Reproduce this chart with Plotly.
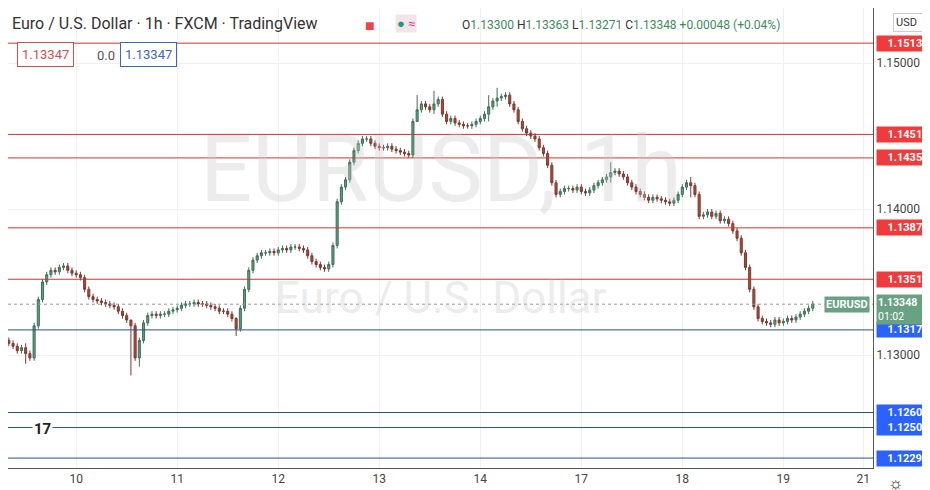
import plotly.graph_objects as go

# hourly closes in pips above 1.13000
close_pips = [8, 6, 3, 5, 1, -2,
              20, 38, 50, 55,
              58, 57, 60, 61, 58,
              56, 55, 53, 45, 40,
              38, 37, 36, 35, 34, 33, 30,
              27, 24, 20, -2,
              10, 22, 27, 28, 27,
              28, 28, 30, 31, 32, 34, 35, 35, 36,
              35, 35, 34, 33, 32, 30, 30, 28,
              25, 18, 32,
              45, 58, 65, 68, 70,
              70, 71, 70, 72, 73, 72, 74, 74, 73, 72,
              68, 64, 62, 60, 59, 62,
              75, 105, 115, 120,
              132, 140, 145, 148,
              148, 145, 143, 142, 142, 143, 141, 140, 139, 138, 137,
              160, 168, 172, 170,
              168, 172, 175, 165, 160, 162,
              159, 158, 157, 157, 158, 160, 162,
              165, 170, 174, 176, 177, 178,
              172, 168, 160, 155, 152, 150,
              148, 142, 138, 130, 118, 110,
              112, 114, 114, 113, 115, 112, 111, 113, 116, 118,
              120, 122, 125, 126, 124, 122,
              118, 115, 112, 110, 108, 106,
              108, 107, 106, 105, 104, 106,
              110, 115, 118,
              116, 110, 95,
              96, 98, 95, 97, 92, 93, 90,
              85, 80, 70, 60,
              45, 33, 25, 23,
              22, 21, 24, 22, 23, 25, 24, 26, 28, 30, 32, 35]
first_open_pips = 10
# long wicks seen on the picture: bar -> (high pips, low pips)
wick_pips = {4: (8, -6), 29: (22, -14), 54: (26, 13), 31: (12, -8),
             97: (178, 160), 101: (181, 165), 116: (183, 170),
             114: (178, 160), 143: (132, 118), 162: (122, 108)}

red_levels = [1.15136, 1.14511, 1.14350, 1.13871, 1.13519]
blue_levels = [1.13172, 1.12606, 1.12503, 1.12294]
day_pos = [16, 40, 64, 88, 112, 136, 160, 184, 203]
day_txt = ["10", "11", "12", "13", "14", "17", "18", "19", "21"]
last_price = 1.13348

x = list(range(len(close_pips)))
opens = [first_open_pips] + close_pips[:-1]
highs, lows = [], []
for i, (o, c) in enumerate(zip(opens, close_pips)):
    h, l = wick_pips.get(i, (max(o, c) + 2, min(o, c) - 2))
    highs.append(max(h, o, c))
    lows.append(min(l, o, c))
to_px = lambda v: [1.13 + p / 10000 for p in v]

fig = go.Figure()
fig.add_trace(go.Candlestick(
    x=x, open=to_px(opens), high=to_px(highs), low=to_px(lows), close=to_px(close_pips),
    increasing=dict(fillcolor="#5f9e80", line=dict(color="#3f6f58", width=1)),
    decreasing=dict(fillcolor="#b04a3a", line=dict(color="#7a3a30", width=1)),
    whiskerwidth=0, showlegend=False, hoverinfo="skip"))

lab = dict(showarrow=False, xref="paper", x=1.003, xanchor="left", width=60, borderpad=1,
           font=dict(color="white", size=11))
shapes = []
ann = []
for lv in red_levels:
    shapes.append(dict(type="line", xref="paper", x0=0, x1=1, y0=lv, y1=lv,
                       line=dict(color="#d0342c", width=1)))
    ann.append(dict(lab, y=lv, text="<b>%.5f</b>" % lv, bgcolor="#ef3b3b"))
for lv in blue_levels:
    shapes.append(dict(type="line", xref="paper", x0=0, x1=1, y0=lv, y1=lv,
                       line=dict(color="#2c4f80", width=1)))
    ann.append(dict(lab, y=lv, text="<b>%.5f</b>" % lv, bgcolor="#2962ff"))
shapes.append(dict(type="line", xref="paper", x0=0, x1=1, y0=last_price, y1=last_price,
                   line=dict(color="#999", width=1, dash="dot")))
ann.append(dict(lab, y=last_price, text="<b>%.5f</b><br>01:02" % last_price, bgcolor="#68a283",
                align="left", yshift=-5, font=dict(color="white", size=10.5)))
ann.append(dict(xref="paper", x=0.997, y=last_price, text="<b>EURUSD</b>", showarrow=False,
                xanchor="right", bgcolor="#68a283", font=dict(color="white", size=11)))

# watermark
ann.append(dict(xref="paper", yref="paper", x=0.5, y=0.77, text="EURUSD, 1h", showarrow=False,
                font=dict(size=92, color="rgba(200,200,200,0.35)", family="Roboto")))
ann.append(dict(xref="paper", yref="paper", x=0.5, y=0.37, text="Euro / U.S. Dollar", showarrow=False,
                font=dict(size=44, color="rgba(200,200,200,0.35)", family="Roboto")))
# header
ann.append(dict(xref="paper", yref="paper", x=0.0, y=1.0, xshift=2, yshift=-4, yanchor="top", xanchor="left",
                text="Euro / U.S. Dollar · 1h · FXCM · TradingView", showarrow=False,
                font=dict(size=16, color="#333")))
g = "#3d8b5c"
ann.append(dict(xref="paper", yref="paper", x=0.523, y=1.0, yshift=-8, yanchor="top", xanchor="left",
                showarrow=False, font=dict(size=12, color="#333"),
                text=("O<span style='color:%s'>1.13300</span> H<span style='color:%s'>1.13363</span> "
                      "L<span style='color:%s'>1.13271</span> C<span style='color:%s'>1.13348</span> "
                      "<span style='color:%s'>+0.00048 (+0.04%%)</span>") % (g, g, g, g, g)))
ann.append(dict(xref="paper", yref="paper", x=0.41, y=1.0, yshift=-6, yanchor="top", xanchor="left",
                showarrow=False, text="<span style='color:#ef4444'>■</span>", font=dict(size=16)))
ann.append(dict(xref="paper", yref="paper", x=0.46, y=1.0, yshift=-6, yanchor="top", xanchor="center",
                showarrow=False, text="<span style='color:#1b9e6e'>●</span> <span style='color:#e0457b'>≈</span>",
                bgcolor="#f3e3ea", font=dict(size=13)))
ann.append(dict(xref="paper", yref="paper", x=0.01, y=1.0, yshift=-34, yanchor="top", xanchor="left",
                showarrow=False, text="1.13347", bordercolor="#d05050", borderwidth=1, borderpad=4,
                bgcolor="white", font=dict(size=13, color="#d05050")))
ann.append(dict(xref="paper", yref="paper", x=0.1, y=1.0, yshift=-38, yanchor="top", xanchor="left",
                showarrow=False, text="0.0", font=dict(size=13, color="#555")))
ann.append(dict(xref="paper", yref="paper", x=0.13, y=1.0, yshift=-34, yanchor="top", xanchor="left",
                showarrow=False, text="1.13347", bordercolor="#3b64c4", borderwidth=1, borderpad=4,
                bgcolor="white", font=dict(size=13, color="#3b64c4")))
ann.append(dict(xref="paper", yref="paper", x=1.068, y=1.0, yshift=-5, yanchor="top", xanchor="right",
                showarrow=False, text="USD ⌄", bordercolor="#ccc", borderwidth=1, borderpad=2,
                font=dict(size=11, color="#333"), bgcolor="white"))
ann.append(dict(xref="paper", yref="paper", x=0.028, y=0.06, showarrow=False, text="<b>17</b>",
                font=dict(size=15, color="#222"), bgcolor="white"))
ann.append(dict(xref="paper", yref="paper", x=1.038, y=0, yshift=-15, yanchor="middle", showarrow=False,
                text="☼", font=dict(size=17, color="#333")))

fig.update_layout(
    width=930, height=490, margin=dict(l=0, r=65, t=0, b=30),
    plot_bgcolor="white", paper_bgcolor="white",
    font=dict(family="Roboto, Arial", color="#555"),
    shapes=shapes, annotations=ann,
    xaxis=dict(range=[-0.2, 205.3], rangeslider=dict(visible=False), tickvals=day_pos, ticktext=day_txt,
               showgrid=True, gridcolor="#f0f0f0", zeroline=False, showline=True, linecolor="#555",
               tickfont=dict(size=12, color="#444"), ticks=""),
    yaxis=dict(range=[1.12226, 1.15377], side="right", tickvals=[1.13, 1.14, 1.15], tickformat=".5f",
               showgrid=True, gridcolor="#f0f0f0", zeroline=False, showline=True, linecolor="#555",
               tickfont=dict(size=12, color="#444"), ticks=""),
)
fig.write_html("out.html")
